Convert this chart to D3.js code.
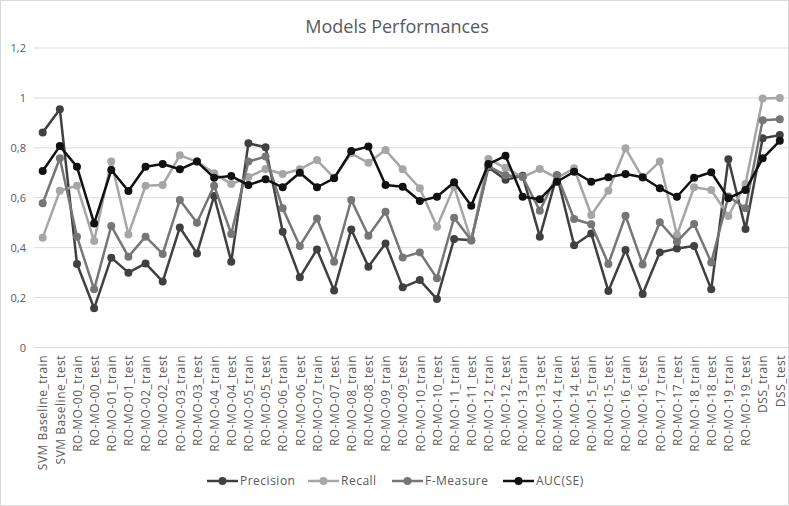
<!DOCTYPE html>
<html><head><meta charset="utf-8">
<script src="https://cdn.jsdelivr.net/npm/d3@7"></script>
<style>body{margin:0;background:#fff}svg{display:block}text{font-family:"Open Sans",sans-serif}</style>
</head><body>
<svg id="c" width="789" height="506"></svg>
<script>
const categories = ["SVM Baseline_train","SVM Baseline_test"];
for (let i = 0; i < 20; i++) { const n = String(i).padStart(2,"0"); categories.push(`RO-MO-${n}_train`, `RO-MO-${n}_test`); }
categories.push("DSS_train","DSS_test");

const precision = [0.861,0.955,0.335,0.157,0.36,0.30,0.337,0.264,0.481,0.377,0.607,0.344,0.818,0.802,0.464,0.281,0.393,0.228,0.473,0.324,0.417,0.241,0.27,0.194,0.435,0.43,0.722,0.672,0.688,0.444,0.69,0.41,0.457,0.226,0.391,0.214,0.381,0.397,0.407,0.233,0.754,0.475,0.838,0.851];
const recall = [0.44,0.628,0.648,0.427,0.745,0.453,0.648,0.651,0.77,0.745,0.698,0.655,0.683,0.715,0.695,0.714,0.751,0.68,0.778,0.74,0.791,0.714,0.638,0.484,0.645,0.428,0.755,0.72,0.683,0.715,0.68,0.718,0.531,0.628,0.798,0.68,0.745,0.451,0.642,0.631,0.527,0.655,0.998,1.0];
const fmeasure = [0.578,0.758,0.444,0.233,0.487,0.364,0.444,0.375,0.591,0.50,0.648,0.455,0.745,0.765,0.558,0.407,0.517,0.344,0.591,0.448,0.544,0.361,0.381,0.277,0.52,0.43,0.727,0.69,0.683,0.548,0.69,0.515,0.494,0.335,0.528,0.333,0.502,0.424,0.495,0.341,0.605,0.558,0.911,0.915];
const auc = [0.707,0.807,0.724,0.497,0.711,0.627,0.724,0.735,0.714,0.745,0.68,0.687,0.651,0.674,0.642,0.70,0.642,0.678,0.787,0.805,0.651,0.644,0.587,0.604,0.662,0.568,0.735,0.768,0.604,0.594,0.664,0.704,0.664,0.682,0.695,0.682,0.638,0.604,0.68,0.702,0.598,0.631,0.758,0.828];
const yTicks = [0,0.2,0.4,0.6,0.8,1,1.2];
const seriesNames = ["Precision","Recall","F-Measure","AUC(SE)"];
const seriesColors = ["#404040","#a6a6a6","#767676","#111111"];
const seriesData = [precision, recall, fmeasure, auc];

const svg = d3.select("#c");
svg.append("rect").attr("x",0.5).attr("y",0.5).attr("width",788).attr("height",505).attr("fill","#fff").attr("stroke","#d9d9d9");

const x = d3.scalePoint().domain(categories).range([42.7, 779.8]);
const y = d3.scaleLinear().domain([0,1.2]).range([347.5, 48]);
const fmt = d => d3.format("")(d).replace(".", ",");

svg.append("text").attr("x",397).attr("y",33).attr("text-anchor","middle")
  .attr("font-size",18).attr("fill","#595959").text("Models Performances");

const grid = svg.append("g");
grid.selectAll("line").data(yTicks).join("line")
  .attr("x1",34).attr("x2",788).attr("y1",d=>y(d)).attr("y2",d=>y(d))
  .attr("stroke","#d9d9d9").attr("stroke-width",1);

const yAxis = svg.append("g").attr("transform","translate(26,0)")
  .call(d3.axisLeft(y).tickValues(yTicks).tickFormat(fmt).tickSize(0).tickPadding(0));
yAxis.select(".domain").remove();
yAxis.selectAll("text").attr("font-size",11).attr("fill","#595959").attr("font-family","Open Sans, sans-serif");

const xAxis = svg.append("g").attr("transform","translate(0,355)")
  .call(d3.axisBottom(x).tickSize(0).tickPadding(0));
xAxis.select(".domain").remove();
xAxis.selectAll("text").attr("font-size",12).attr("letter-spacing","0.5px").attr("fill","#595959").attr("font-family","Open Sans, sans-serif")
  .attr("transform","rotate(-90)").attr("text-anchor","end").attr("dx",0).attr("dy","0.35em").attr("x",0).attr("y",0);

const line = d3.line().x((d,i)=>x(categories[i])).y(d=>y(d));
seriesData.forEach((arr, si) => {
  const g = svg.append("g");
  g.append("path").datum(arr).attr("d", line).attr("fill","none")
    .attr("stroke", seriesColors[si]).attr("stroke-width",2.5).attr("stroke-linejoin","round");
  g.selectAll("circle").data(arr).join("circle")
    .attr("cx",(d,i)=>x(categories[i])).attr("cy",d=>y(d)).attr("r",4)
    .attr("fill",seriesColors[si]);
});

const legX = [207, 308, 392, 503];
const leg = svg.append("g");
seriesNames.forEach((n, i) => {
  const lg = leg.append("g").attr("transform",`translate(${legX[i]},481)`);
  lg.append("line").attr("x1",0).attr("x2",31).attr("stroke",seriesColors[i]).attr("stroke-width",2.5);
  lg.append("circle").attr("cx",15.5).attr("r",4).attr("fill",seriesColors[i]);
  lg.append("text").attr("x",33).attr("dy","0.35em").attr("font-size",12).attr("letter-spacing","0.5px").attr("fill","#595959").text(n);
});
</script>
</body></html>
